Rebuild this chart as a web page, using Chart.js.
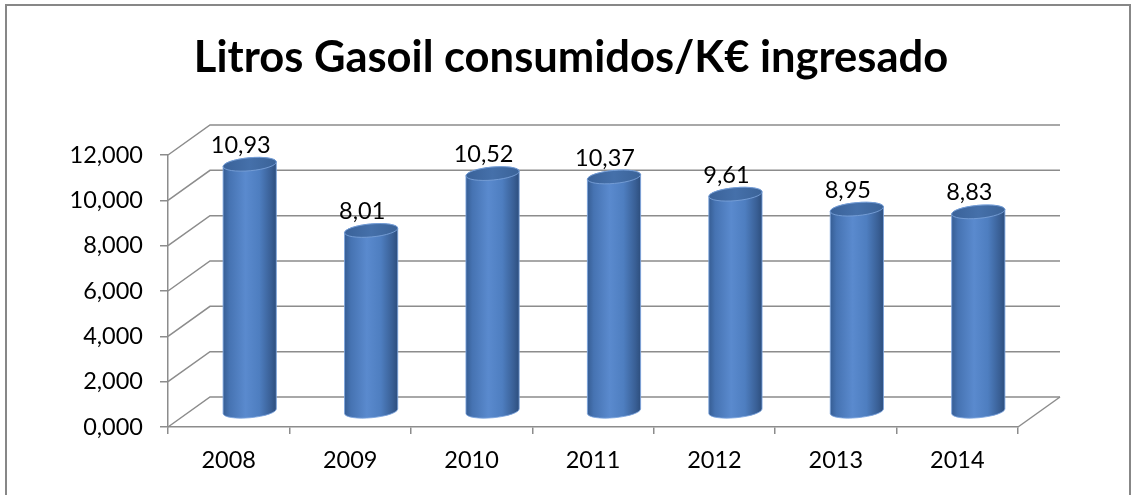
<!DOCTYPE html>
<html>
<head>
<meta charset="utf-8">
<style>
  html, body { margin: 0; padding: 0; background: #ffffff; }
  #wrap { width: 1132px; height: 495px; position: relative; }
</style>
<script src="https://cdn.jsdelivr.net/npm/chart.js@4.4.1/dist/chart.umd.min.js"></script>
</head>
<body>
<div id="wrap"><canvas id="c" width="1132" height="495"></canvas></div>
<script>
// ---- data ----
const titleText = 'Litros Gasoil consumidos/K€ ingresado';
const years = ['2008', '2009', '2010', '2011', '2012', '2013', '2014'];
const values = [10.93, 8.01, 10.52, 10.37, 9.61, 8.95, 8.83];
const valueLabels = ['10,93', '8,01', '10,52', '10,37', '9,61', '8,95', '8,83'];
const yTickValues = [0, 2, 4, 6, 8, 10, 12];
const yTickLabels = ['0,000', '2,000', '4,000', '6,000', '8,000', '10,000', '12,000'];

// ---- style ----
const FONT = 'Lato, "Open Sans", "Liberation Sans", sans-serif';
const GRID = '#8c8c8c';
const DX = 42, DY = -30;   // 3D depth offset of back wall

const borderPlugin = {
  id: 'outerBorder',
  beforeDraw(chart) {
    const ctx = chart.ctx;
    ctx.save();
    ctx.fillStyle = '#ffffff';
    ctx.fillRect(0, 0, chart.width, chart.height);
    ctx.strokeStyle = '#878787';
    ctx.lineWidth = 2;
    ctx.strokeRect(6, 5, chart.width - 8, chart.height + 20);
    ctx.restore();
  }
};

const wallPlugin = {
  id: 'walls3d',
  beforeDatasetsDraw(chart) {
    const ctx = chart.ctx;
    const xs = chart.scales.x, ys = chart.scales.y;
    ctx.save();
    ctx.strokeStyle = GRID;
    ctx.lineWidth = 1.5;
    yTickValues.forEach(v => {
      const py = ys.getPixelForValue(v);
      ctx.beginPath();
      ctx.moveTo(xs.left, py);
      ctx.lineTo(xs.left + DX, py + DY);
      ctx.lineTo(xs.right + DX, py + DY);
      ctx.stroke();
    });
    const p0 = ys.getPixelForValue(0);
    ctx.beginPath();
    ctx.moveTo(xs.right, p0);
    ctx.lineTo(xs.right + DX, p0 + DY);
    ctx.stroke();
    ctx.restore();
  }
};

function drawCylinder(ctx, cx, top, bottom, w) {
  const rx = w / 2, ry = 6.5, rot = -0.09;
  const c = Math.cos(rot), s = Math.sin(rot);
  const lx = cx - rx * c, ly = -rx * s, rxp = cx + rx * c, ryp = rx * s;
  const g = ctx.createLinearGradient(cx - rx, 0, cx + rx, 0);
  g.addColorStop(0, '#365d93');
  g.addColorStop(0.12, '#4673b2');
  g.addColorStop(0.42, '#5a8ace');
  g.addColorStop(0.68, '#4e7ec0');
  g.addColorStop(0.9, '#395f95');
  g.addColorStop(1, '#2d4e7d');
  ctx.beginPath();
  ctx.moveTo(lx, top + ly);
  ctx.lineTo(lx, bottom + ly);
  ctx.ellipse(cx, bottom, rx, ry, rot, Math.PI, 0, true);
  ctx.lineTo(rxp, top + ryp);
  ctx.ellipse(cx, top, rx, ry, rot, 0, -Math.PI, true);
  ctx.closePath();
  ctx.fillStyle = g;
  ctx.fill();
  ctx.strokeStyle = 'rgba(125,165,222,0.85)';
  ctx.lineWidth = 1;
  ctx.stroke();
  const tg = ctx.createLinearGradient(cx - rx, 0, cx + rx, 0);
  tg.addColorStop(0, '#3a6299');
  tg.addColorStop(0.5, '#4570aa');
  tg.addColorStop(1, '#3b6398');
  ctx.beginPath();
  ctx.ellipse(cx, top, rx, ry, rot, 0, Math.PI * 2);
  ctx.fillStyle = tg;
  ctx.fill();
  ctx.strokeStyle = 'rgba(120,160,215,0.9)';
  ctx.stroke();
}

const cylinderPlugin = {
  id: 'cylinders',
  afterDatasetsDraw(chart) {
    const ctx = chart.ctx;
    const meta = chart.getDatasetMeta(0);
    ctx.save();
    meta.data.forEach((bar, i) => {
      const p = bar.getProps(['x', 'y', 'base', 'width'], true);
      drawCylinder(ctx, p.x + DX / 2, p.y + DY / 2, p.base + DY / 2, p.width);
    });
    ctx.fillStyle = '#000000';
    ctx.font = '23.5px ' + FONT;
    ctx.textAlign = 'center';
    ctx.textBaseline = 'middle';
    meta.data.forEach((bar, i) => {
      const p = bar.getProps(['x', 'y'], true);
      ctx.fillText(valueLabels[i], p.x + 12, p.y - 34);
    });
    ctx.restore();
  }
};

new Chart(document.getElementById('c'), {
  type: 'bar',
  data: {
    labels: years,
    datasets: [{
      data: values,
      backgroundColor: 'rgba(0,0,0,0)',
      borderWidth: 0,
      categoryPercentage: 1,
      barPercentage: 0.44
    }]
  },
  options: {
    responsive: false,
    animation: false,
    events: [],
    layout: { padding: { left: 10, right: 0, top: 0, bottom: 0 } },
    plugins: {
      legend: { display: false },
      tooltip: { enabled: false },
      title: {
        display: true,
        text: titleText,
        color: '#000000',
        font: { family: FONT, size: 43.5, weight: 'bold', lineHeight: 1.2 },
        padding: { top: 32, bottom: 70.8 }
      }
    },
    scales: {
      x: {
        grid: { display: true, drawOnChartArea: false, drawTicks: true, tickLength: 7, color: GRID, lineWidth: 1.5, offset: true },
        border: { display: true, color: GRID, width: 1.5 },
        ticks: { color: '#000000', font: { family: FONT, size: 23.5 }, padding: 12 },
        afterFit(scale) { scale.height = 68; }
      },
      y: {
        min: 0, max: 12,
        grid: { display: true, drawOnChartArea: false, drawTicks: true, tickLength: 8, color: GRID, lineWidth: 1.5 },
        border: { display: true, color: GRID, width: 1.5 },
        ticks: {
          stepSize: 2,
          color: '#000000',
          font: { family: FONT, size: 23.5 },
          padding: 17,
          callback: (v) => { const k = yTickValues.indexOf(v); return k >= 0 ? yTickLabels[k] : ''; }
        },
        afterFit(scale) { scale.width = 158; }
      },
      ySpace: {
        position: 'right',
        min: 0, max: 12,
        grid: { display: false },
        border: { display: false },
        ticks: { display: false },
        afterFit(scale) { scale.width = 114; }
      }
    }
  },
  plugins: [borderPlugin, wallPlugin, cylinderPlugin]
});
</script>
</body>
</html>
